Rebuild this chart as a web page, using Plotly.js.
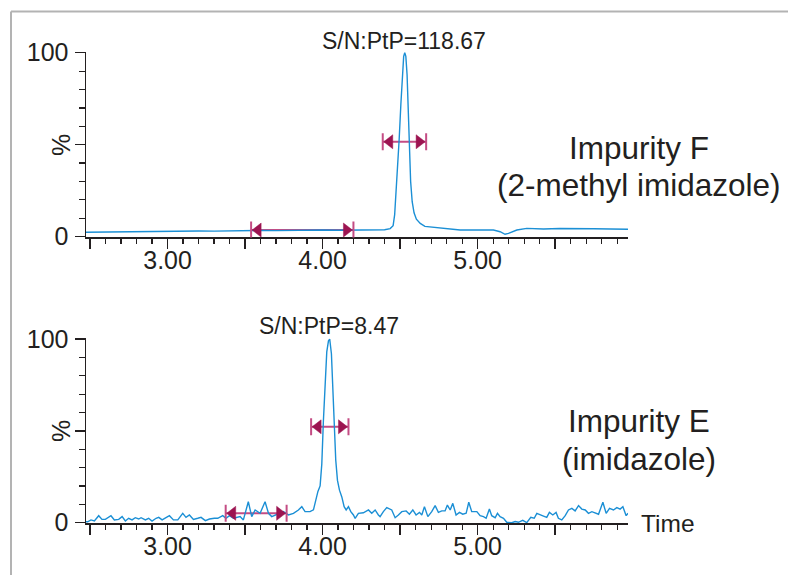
<!DOCTYPE html>
<html>
<head>
<meta charset="utf-8">
<script src="https://cdn.plot.ly/plotly-3.0.1.min.js"></script>
<style>html,body{margin:0;padding:0;background:#fff;}#chart{width:788px;height:575px;}</style>
</head>
<body>
<div id="chart"></div>
<script>
// ---- Data ----
var topTime = [2.474, 2.55, 2.62, 2.70, 2.80, 2.90, 3.00, 3.10, 3.20, 3.30, 3.40, 3.50, 3.60, 3.70, 3.80, 3.90, 4.00, 4.10, 4.20, 4.30, 4.40, 4.436, 4.455, 4.465, 4.475, 4.485, 4.494, 4.505, 4.515, 4.523, 4.530, 4.537, 4.545, 4.552, 4.560, 4.568, 4.578, 4.590, 4.605, 4.630, 4.660, 4.700, 4.737, 4.800, 4.887, 4.950, 5.020, 5.102, 5.145, 5.177, 5.199, 5.225, 5.253, 5.317, 5.425, 5.530, 5.640, 5.750, 5.855, 5.970];
var topPct  = [2.4, 2.5, 2.3, 2.6, 2.5, 2.8, 2.7, 2.9, 3.1, 3.0, 3.2, 3.1, 3.4, 3.3, 3.5, 3.4, 3.6, 3.5, 3.7, 3.6, 3.8, 4.4, 6, 12, 25, 40, 53, 72, 90, 98, 100, 98, 88, 68, 46, 30, 19, 13, 9.5, 7.2, 5.6, 5.2, 4.9, 4.6, 3.6, 3.7, 3.5, 3.6, 2.7, 1.3, 1.8, 2.8, 3.6, 4.5, 4.2, 4.4, 4.5, 4.3, 4.2, 4.0];

var botTime = [2.474, 2.485, 2.506, 2.528, 2.556, 2.577, 2.599, 2.635, 2.657, 2.685, 2.707, 2.728, 2.749, 2.771, 2.792, 2.814, 2.829, 2.857, 2.878, 2.900, 2.926, 2.943, 2.965, 2.990, 3.012, 3.038, 3.066, 3.098, 3.119, 3.141, 3.167, 3.195, 3.216, 3.244, 3.270, 3.302, 3.324, 3.356, 3.377, 3.399, 3.425, 3.468, 3.489, 3.521, 3.543, 3.565, 3.597, 3.629, 3.651, 3.672, 3.715, 3.747, 3.780, 3.812, 3.844, 3.866, 3.887, 3.919, 3.941, 3.955, 3.970, 3.984, 3.995, 4.005, 4.016, 4.027, 4.038, 4.046, 4.057, 4.066, 4.074, 4.085, 4.096, 4.109, 4.124, 4.139, 4.152, 4.167, 4.182, 4.199, 4.210, 4.231, 4.263, 4.296, 4.317, 4.339, 4.360, 4.371, 4.392, 4.414, 4.446, 4.468, 4.489, 4.511, 4.539, 4.560, 4.582, 4.603, 4.625, 4.640, 4.657, 4.679, 4.704, 4.726, 4.747, 4.769, 4.790, 4.805, 4.823, 4.840, 4.861, 4.883, 4.904, 4.926, 4.943, 4.962, 4.995, 5.016, 5.038, 5.055, 5.076, 5.091, 5.113, 5.128, 5.145, 5.167, 5.188, 5.220, 5.242, 5.263, 5.291, 5.317, 5.343, 5.365, 5.382, 5.403, 5.425, 5.446, 5.463, 5.485, 5.506, 5.521, 5.543, 5.565, 5.586, 5.608, 5.629, 5.651, 5.672, 5.694, 5.715, 5.737, 5.758, 5.780, 5.808, 5.829, 5.851, 5.876, 5.898, 5.919, 5.937, 5.958, 5.970];
var botPct  = [0.5, 0.5, 1.5, 0.9, 3.8, 1.8, 1.8, 3.8, 1.5, 1.8, 3.3, 0.9, 2.4, 1.5, 2.7, 2.0, 2.7, 1.5, 2.4, 0.9, 2.4, 2.9, 1.5, 2.9, 3.8, 1.5, 1.5, 5.1, 2.9, 4.2, 1.8, 2.4, 2.9, 1.1, 2.0, 2.4, 2.4, 3.8, 2.4, 3.8, 2.4, 3.3, 1.5, 11.4, 3.3, 6.9, 5.1, 11.4, 5.1, 3.3, 5.1, 6.0, 4.2, 5.1, 6.9, 8.7, 6.0, 6.0, 7.0, 12, 17, 20, 32, 55, 77, 93, 99, 100, 92, 72, 50, 34, 23, 17.7, 14, 8.7, 6.9, 8.7, 6.0, 4.2, 2.3, 5.1, 5.4, 6.9, 5.1, 6.9, 4.2, 3.3, 6.0, 8.2, 6.9, 2.7, 4.2, 6.0, 6.4, 4.6, 6.9, 4.2, 5.6, 4.2, 8.7, 3.3, 6.0, 9.3, 5.6, 6.4, 6.4, 9.6, 6.9, 10.5, 4.2, 5.6, 4.6, 5.1, 11.1, 6.0, 6.0, 3.8, 3.3, 2.4, 7.4, 3.8, 2.7, 5.1, 3.3, 2.4, 0.2, 0.0, 0.6, 0.2, 1.3, 0.0, 2.9, 2.4, 5.1, 4.2, 3.6, 2.9, 5.6, 4.2, 5.6, 2.4, 1.5, 3.8, 6.9, 7.8, 6.4, 9.3, 7.4, 6.9, 5.1, 6.0, 5.1, 4.6, 11.1, 5.1, 7.8, 6.9, 8.2, 7.4, 8.7, 3.8, 5.1];

// S/N measurement markers: [start time, end time, level %]
var topPeakWidth  = [4.388, 4.668, 51.6];
var topNoiseSpan  = [3.539, 4.199, 3.6];
var botPeakWidth  = [3.926, 4.167, 52.2];
var botNoiseSpan  = [3.375, 3.768, 5.1];

var topLabel = 'S/N:PtP=118.67';
var botLabel = 'S/N:PtP=8.47';
var topName = ['Impurity F', '(2-methyl imidazole)'];
var botName = ['Impurity E', '(imidazole)'];
var xTickVals = [2.5, 3.0, 3.5, 4.0, 4.5, 5.0, 5.5];
var xTickText = ['', '3.00', '', '4.00', '', '5.00', ''];
var yTickVals = [0, 50, 100];
var yTickText = ['0', '', '100'];

// ---- Layout helpers ----
var W = 788, H = 575;
function P(px){ return px / W; }
function Q(py){ return 1 - py / H; }
var ink = '#231f20';
var FONT = 'Liberation Sans, Arial, Helvetica, sans-serif';
var blue = '#1b8fd5';
var headCol = '#9c1451';
var lineCol = '#c44c84';

function xAxis(anchor){
  return {
    domain: [P(86), P(628)], range: [2.474, 5.97], anchor: anchor,
    showgrid: false, zeroline: false, showline: true, linecolor: ink, linewidth: 1.5,
    ticks: 'outside', ticklen: 10, tickwidth: 1.5, tickcolor: ink,
    tickmode: 'array', tickvals: xTickVals, ticktext: xTickText,
    tickfont: {family: FONT, size: 25, color: ink}, ticklabelstandoff: -10,
    minor: {tickmode: 'linear', tick0: 2.5, dtick: 0.1, ticks: 'outside', ticklen: 5.5, tickwidth: 1.2, tickcolor: ink},
    fixedrange: true
  };
}
function yAxis(anchor, d0, d1){
  return {
    domain: [d0, d1], range: [-0.4, 100.4], anchor: anchor,
    showgrid: false, zeroline: false, showline: true, linecolor: ink, linewidth: 1.5,
    ticks: 'outside', ticklen: 10, tickwidth: 1.5, tickcolor: ink,
    tickmode: 'array', tickvals: yTickVals, ticktext: yTickText,
    tickfont: {family: FONT, size: 25, color: ink}, ticklabelstandoff: 1,
    minor: {tickmode: 'linear', tick0: 0, dtick: 10, ticks: 'outside', ticklen: 6, tickwidth: 1.2, tickcolor: ink},
    fixedrange: true
  };
}

function arrowShapes(spec, xref, yref){
  var x0 = spec[0], x1 = spec[1], y = spec[2];
  var s = [];
  s.push({type: 'line', xref: xref, yref: yref, x0: x0, x1: x1, y0: y, y1: y, layer: 'below',
          line: {color: lineCol, width: 2}});
  [x0, x1].forEach(function(xv){
    s.push({type: 'line', xref: xref, yref: yref, x0: xv, x1: xv, ysizemode: 'pixel', yanchor: y,
            y0: -8.5, y1: 8.5, line: {color: lineCol, width: 2}});
  });
  s.push({type: 'path', xref: xref, yref: yref, xsizemode: 'pixel', ysizemode: 'pixel',
          xanchor: x0, yanchor: y, path: 'M1,0 L10,7 L10,-7 Z',
          fillcolor: headCol, line: {color: headCol, width: 0.5}});
  s.push({type: 'path', xref: xref, yref: yref, xsizemode: 'pixel', ysizemode: 'pixel',
          xanchor: x1, yanchor: y, path: 'M-1,0 L-10,7 L-10,-7 Z',
          fillcolor: headCol, line: {color: headCol, width: 0.5}});
  return s;
}

var traces = [
  {x: topTime, y: topPct, xaxis: 'x', yaxis: 'y', type: 'scatter', mode: 'lines',
   line: {color: blue, width: 1.4}, hoverinfo: 'skip'},
  {x: botTime, y: botPct, xaxis: 'x2', yaxis: 'y2', type: 'scatter', mode: 'lines',
   line: {color: blue, width: 1.4}, hoverinfo: 'skip'}
];

function ann(text, px, py, size, extra){
  var a = {text: text, xref: 'paper', yref: 'paper', x: P(px), y: Q(py),
           xanchor: 'center', yanchor: 'middle', showarrow: false,
           font: {family: FONT, size: size, color: ink}};
  if (extra) for (var k in extra) a[k] = extra[k];
  return a;
}

var annotations = [
  ann(topLabel, 404, 41.5, 23),
  ann(botLabel, 329, 325.5, 23),
  ann(topName[0], 639, 148, 31.5),
  ann(topName[1], 639, 184.5, 31.5),
  ann(botName[0], 639, 421, 31.5),
  ann(botName[1], 639, 459, 31.5),
  ann('Time', 667.5, 523.7, 24.5),
  ann('%', 61, 145, 25, {textangle: -90}),
  ann('%', 61, 431, 25, {textangle: -90})
];

var shapes = [
  {type: 'line', xref: 'paper', yref: 'paper', x0: P(11), x1: 1.01, y0: Q(11.5), y1: Q(11.5), line: {color: '#b3b3b3', width: 2}},
  {type: 'line', xref: 'paper', yref: 'paper', x0: P(11), x1: P(11), y0: Q(11.5), y1: -0.01, line: {color: '#b3b3b3', width: 2}}
].concat(arrowShapes(topPeakWidth, 'x', 'y'), arrowShapes(topNoiseSpan, 'x', 'y'),
         arrowShapes(botPeakWidth, 'x2', 'y2'), arrowShapes(botNoiseSpan, 'x2', 'y2'));

var layout = {
  width: W, height: H, margin: {l: 0, r: 0, t: 0, b: 0},
  paper_bgcolor: '#ffffff', plot_bgcolor: '#ffffff', showlegend: false,
  font: {family: FONT, color: ink},
  xaxis: xAxis('y'),
  yaxis: yAxis('x', Q(237.4), Q(52)),
  xaxis2: xAxis('y2'),
  yaxis2: yAxis('x2', Q(523.4), Q(338.3)),
  annotations: annotations,
  shapes: shapes
};

Plotly.newPlot('chart', traces, layout, {displayModeBar: false, staticPlot: true});
</script>
</body>
</html>
